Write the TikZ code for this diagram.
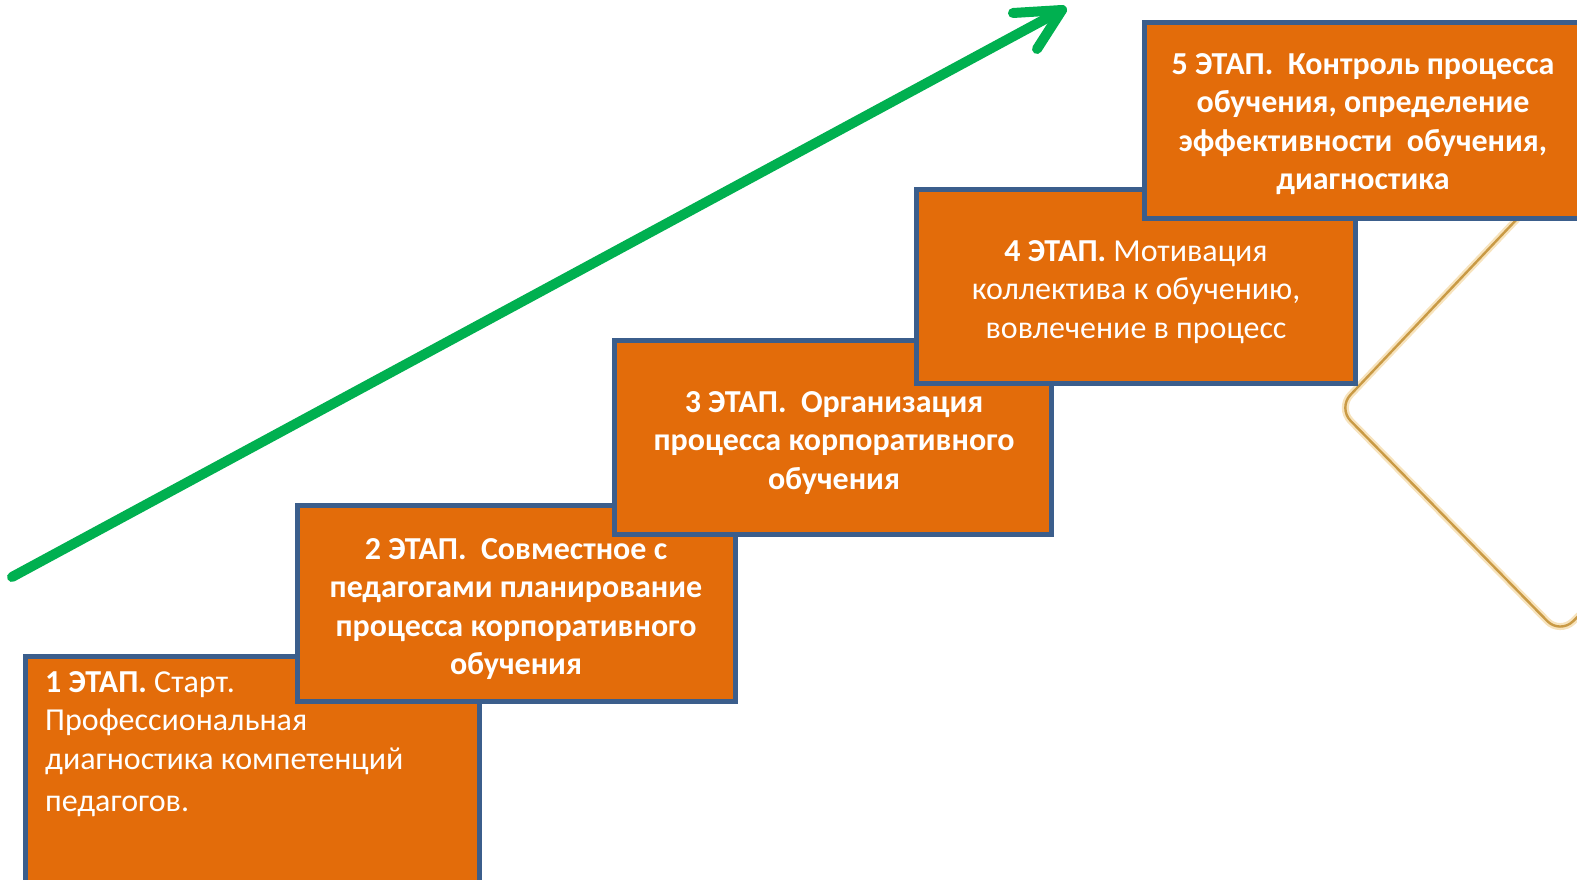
\documentclass[tikz,border=0pt]{standalone}
\usepackage{fontspec}
\setmainfont{Carlito}
\begin{document}
\begin{tikzpicture}[x=1pt,y=-1pt,
  stagebox/.style={draw=boxborder, fill=stageorange, line width=5pt},
  stagetext/.style={text=white, align=center, font=\fontsize{32}{38.5}\selectfont\bfseries, inner sep=0pt},
  growarrow/.style={draw=arrowgreen, line width=10pt, line cap=round, line join=round},
  ornament/.style={draw=ornamentgold, line width=2.4pt, rounded corners=18pt},
  ornamentglow/.style={draw=ornamentglow, line width=7pt, rounded corners=18pt}
]
\definecolor{stageorange}{HTML}{E36C0A}
\definecolor{boxborder}{HTML}{3B5E8C}
\definecolor{arrowgreen}{HTML}{00B050}
\definecolor{ornamentgold}{HTML}{C99A45}
\definecolor{ornamentglow}{HTML}{F7E3BC}
\useasboundingbox (0,0) rectangle (1577,880);
\clip (0,0) rectangle (1577,880);
\fill[white] (0,0) rectangle (1577,880);

% ornament (behind boxes)
\coordinate (o1) at (1535,200);
\coordinate (o2) at (1338,408);
\coordinate (o3) at (1560,634);
\coordinate (o4) at (1605,590);
\draw[ornamentglow] (o1) -- (o2) -- (o3) -- (o4);
\draw[ornament] (o1) -- (o2) -- (o3) -- (o4);

% stage boxes
\node[stagebox, minimum width=454pt, minimum height=240pt, anchor=north west] (b1) at (23,654) {};
\node[stagebox, minimum width=438pt, minimum height=196pt, anchor=north west] (b2) at (295,503) {};
\node[stagebox, minimum width=437pt, minimum height=194pt, anchor=north west] (b3) at (612,338) {};
\node[stagebox, minimum width=439pt, minimum height=194pt, anchor=north west] (b4) at (914,187) {};
\node[stagebox, minimum width=460pt, minimum height=196pt, anchor=north west] (b5) at (1142,20) {};

% texts
\node[stagetext, align=left, anchor=north west] (t1) at (45,671)
  {1 ЭТАП. \mdseries Старт.\\ \mdseries Профессиональная\\ \mdseries диагностика компетенций\\[4pt] \mdseries педагогов.};
\node[stagetext] (t2) at (516,609) {2 ЭТАП.\ \ Совместное с\\педагогами планирование\\процесса корпоративного\\обучения};
\node[stagetext] (t3) at (834,443) {3 ЭТАП.\ \ Организация\\процесса корпоративного\\обучения};
\node[stagetext] (t4) at (1136,292) {4 ЭТАП. \mdseries Мотивация\\ \mdseries коллектива к обучению,\\ \mdseries вовлечение в процесс};
\node[stagetext] (t5) at (1363,124) {5 ЭТАП.\ \ Контроль процесса\\обучения, определение\\эффективности\ \ обучения,\\диагностика};

% growth arrow
\coordinate (astart) at (12,577);
\coordinate (atip) at (1062,10);
\coordinate (aarm1) at (1013,13);
\coordinate (aarm2) at (1037,49);
\draw[growarrow] (astart) -- (atip);
\draw[growarrow] (aarm1) -- (atip) -- (aarm2);
\end{tikzpicture}
\end{document}
